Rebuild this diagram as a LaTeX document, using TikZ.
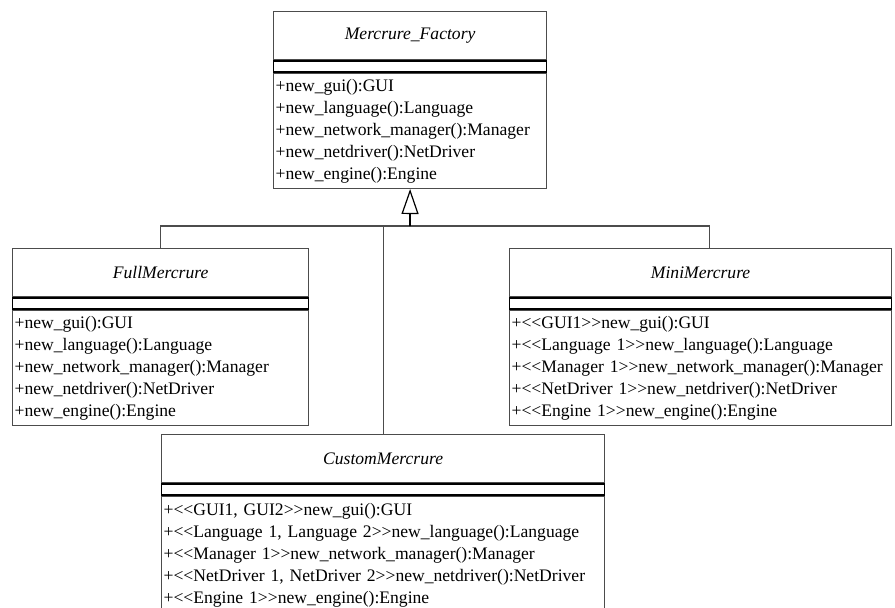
\documentclass[tikz,border=0pt]{standalone}
\usepackage{fontspec}
\setmainfont{Liberation Serif}
\usetikzlibrary{arrows.meta,positioning}

\newcommand\stereo[1]{<\kern0pt<#1>\kern0pt>}

\begin{document}
\begin{tikzpicture}[
    x=0.5pt, y=-0.5pt,
    classtitle/.style={draw=black!70, line width=0.6pt, anchor=north west, minimum height=24pt, inner sep=0pt, font=\fontsize{8.8}{11}\selectfont\itshape},
    classattr/.style={draw=black, line width=0.8pt, minimum height=5.5pt, inner sep=0pt},
    classops/.style={draw=black!70, line width=0.6pt, minimum height=57.5pt, align=left, inner xsep=1pt, inner ysep=0pt, font=\fontsize{8.8}{11}\selectfont},
    inherit/.style={draw=black!70, line width=0.6pt}
]
    \useasboundingbox (0,0) rectangle (895,607);

    % Abstract factory
    \node[classtitle, minimum width=136.5pt] (factory) at (273,11) {Mercrure\_Factory};
    \node[classattr, minimum width=136.5pt, below=0pt of factory] (factory-attr) {};
    \node[classops, text width=134.5pt, below=0pt of factory-attr] (factory-ops) {+new\_gui():GUI\\
        +new\_language():Language\\
        +new\_network\_manager():Manager\\
        +new\_netdriver():NetDriver\\
        +new\_engine():Engine};

    % Full
    \node[classtitle, minimum width=148pt] (full) at (12,248) {FullMercrure};
    \node[classattr, minimum width=148pt, below=0pt of full] (full-attr) {};
    \node[classops, text width=146pt, below=0pt of full-attr] (full-ops) {+new\_gui():GUI\\
        +new\_language():Language\\
        +new\_network\_manager():Manager\\
        +new\_netdriver():NetDriver\\
        +new\_engine():Engine};

    % Mini
    \node[classtitle, minimum width=191pt] (mini) at (509,248) {MiniMercrure};
    \node[classattr, minimum width=191pt, below=0pt of mini] (mini-attr) {};
    \node[classops, text width=189pt, below=0pt of mini-attr] (mini-ops) {+\stereo{GUI1}new\_gui():GUI\\
        +\stereo{Language 1}new\_language():Language\\
        +\stereo{Manager 1}new\_network\_manager():Manager\\
        +\stereo{NetDriver 1}new\_netdriver():NetDriver\\
        +\stereo{Engine 1}new\_engine():Engine};

    % Custom
    \node[classtitle, minimum width=221.5pt] (custom) at (161,434) {CustomMercrure};
    \node[classattr, minimum width=221.5pt, below=0pt of custom] (custom-attr) {};
    \node[classops, text width=219.5pt, minimum height=59pt, below=0pt of custom-attr] (custom-ops) {+\stereo{GUI1, GUI2}new\_gui():GUI\\
        +\stereo{Language 1, Language 2}new\_language():Language\\
        +\stereo{Manager 1}new\_network\_manager():Manager\\
        +\stereo{NetDriver 1, NetDriver 2}new\_netdriver():NetDriver\\
        +\stereo{Engine 1}new\_engine():Engine};

    % Generalisation
    \coordinate (joint) at (410,226);
    \draw[inherit] (full.north) |- (joint);
    \draw[inherit] ([xshift=4.5pt]mini.north) |- (joint);
    \draw[inherit] ([xshift=0.25pt]custom.north) |- (joint);
    \draw[draw=black, line width=0.8pt, -{Triangle[open, length=12.5pt, width=8.5pt, line width=0.6pt]}] (joint) -- (factory-ops.south);
\end{tikzpicture}
\end{document}
